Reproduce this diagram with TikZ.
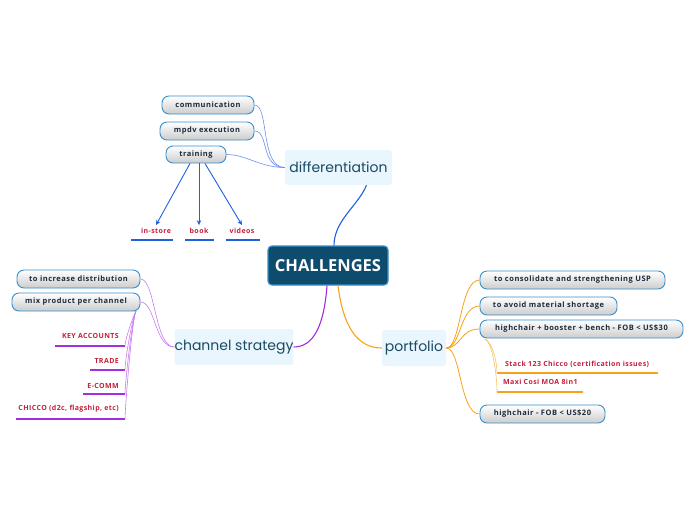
\documentclass[tikz,border=0pt]{standalone}
\usepackage{fontspec}
\setmainfont{Open Sans}
\newfontfamily\hand{Poppins}
\newfontfamily\boxfont[LetterSpace=7]{Open Sans}
\newfontfamily\leaffont[LetterSpace=6]{Open Sans}
\usetikzlibrary{arrows.meta}
\definecolor{navy}{HTML}{0E4C6E}
\definecolor{cborder}{HTML}{3A8FCB}
\definecolor{txt}{HTML}{1E2B3C}
\definecolor{crim}{HTML}{C41E3A}
\definecolor{mainblue}{HTML}{1F5FE0}
\definecolor{lightblue}{HTML}{6A8FF0}
\definecolor{purp}{HTML}{A52DE0}
\definecolor{lpurp}{HTML}{C77DF0}
\definecolor{orng}{HTML}{F7A21B}
\definecolor{lorng}{HTML}{F9C060}
\definecolor{topicfill}{HTML}{E9F6FD}
\definecolor{handtxt}{HTML}{1B4A63}
\tikzset{
  subbox/.style={draw=cborder, line width=0.9pt, rounded corners=7pt, top color=white, bottom color=black!20,
    font=\boxfont\fontsize{7.5}{8}\selectfont\bfseries, text=txt, minimum height=18pt, inner sep=0pt},
  mainbox/.style={fill=topicfill, rounded corners=3pt, font=\hand\fontsize{14}{16}\selectfont, text=handtxt, inner sep=0pt},
  leaf/.style={font=\leaffont\fontsize{7}{8}\selectfont\bfseries, text=crim, inner sep=0pt},
  centerbox/.style={fill=navy, draw=cborder, line width=1.2pt, rounded corners=4pt, text=white,
    font=\fontsize{16.5}{18}\selectfont\bfseries, inner sep=0pt},
  bline/.style={mainblue, line width=1.1pt},
  lbline/.style={lightblue, line width=0.6pt},
  pline/.style={purp, line width=1.1pt},
  lpline/.style={lpurp, line width=0.6pt},
  oline/.style={orng, line width=1.1pt},
  loline/.style={lorng, line width=0.6pt},
  tip/.style={-{Stealth[length=5pt,width=4.5pt]}},
}
\begin{document}
\begin{tikzpicture}[x=1pt,y=-1pt]
\useasboundingbox (0,0) rectangle (696,520);
% central
\node[centerbox, minimum width=120pt, minimum height=39pt] (ch) at (328,265.5) {CHALLENGES};
% main topics
\node[mainbox, minimum width=107pt, minimum height=35pt] (diff) at (338.5,167.5) {differentiation};
\node[mainbox, minimum width=118pt, minimum height=36pt] (chan) at (234,347) {channel strategy};
\node[mainbox, minimum width=64pt, minimum height=36pt] (port) at (414,348) {portfolio};
\draw[bline] ([xshift=6pt]ch.north) .. controls +(0,-25) and +(-8,20) .. ([xshift=28pt]diff.south);
\draw[pline] ([xshift=-1pt]ch.south) .. controls +(-3,40) and +(20,0) .. (chan.east);
\draw[oline] ([xshift=10pt]ch.south) .. controls +(5,40) and +(-25,0) .. (port.west);
% differentiation subs
\node[subbox, minimum width=92pt] (comm) at (208,105) {communication};
\node[subbox, minimum width=94pt] (mpdv) at (207,131) {mpdv execution};
\node[subbox, minimum width=60pt, minimum height=17pt] (train) at (196,154.5) {training};
\draw[lbline] (diff.west) .. controls +(-25,0) and +(15,0) .. (comm.east);
\draw[lbline] (diff.west) .. controls +(-25,0) and +(15,0) .. (mpdv.east);
\draw[lbline] (diff.west) .. controls +(-25,0) and +(20,0) .. (train.east);
\node[leaf] (instore) at (156,231) {in-store};
\node[leaf] (book) at (199,231) {book};
\node[leaf] (videos) at (242,231) {videos};
\draw[bline, line width=0.9pt, tip] ([xshift=-6pt]train.south) -- ([yshift=3pt]instore.north);
\draw[bline, line width=0.9pt, tip] ([xshift=3pt]train.south) -- ([yshift=3pt]book.north);
\draw[bline, line width=0.9pt, tip] ([xshift=9pt]train.south) -- ([yshift=3pt]videos.north);
\coordinate (u1a) at (131,240); \coordinate (u1b) at (173,240);
\coordinate (u2a) at (185,240); \coordinate (u2b) at (214,240);
\coordinate (u3a) at (226,240); \coordinate (u3b) at (260,240);
\draw[bline] (u1a) -- (u1b);
\draw[bline] (u2a) -- (u2b);
\draw[bline] (u3a) -- (u3b);
% channel strategy subs
\node[subbox, minimum width=123pt] (incr) at (78.5,279) {to increase distribution};
\node[subbox, minimum width=128pt] (mix) at (76,302) {mix product per channel};
\draw[lpline] (chan.west) .. controls +(-20,0) and +(15,0) .. (incr.east);
\draw[lpline] (chan.west) .. controls +(-20,0) and +(15,0) .. (mix.east);
\node[leaf, anchor=east] (key) at (119,336) {KEY ACCOUNTS};
\node[leaf, anchor=east] (trade) at (119,361) {TRADE};
\node[leaf, anchor=east] (ecomm) at (119,386) {E-COMM};
\node[leaf, anchor=east] (chicco) at (119,409) {CHICCO (d2c, flagship, etc)};
\coordinate (mixb) at (136,311);
\coordinate (k1) at (55,346); \coordinate (k2) at (125,346);
\coordinate (t1) at (90,370); \coordinate (t2) at (125,370);
\coordinate (e1) at (83,394); \coordinate (e2) at (125,394);
\coordinate (c1) at (16,419); \coordinate (c2) at (125,419);
\draw[pline] (k1) -- (k2); \draw[pline] (t1) -- (t2); \draw[pline] (e1) -- (e2); \draw[pline] (c1) -- (c2);
\draw[lpline] (mixb) .. controls +(-4,8) and +(0,-6) .. (k2);
\draw[lpline] (mixb) .. controls +(-4,8) and +(0,-10) .. (t2);
\draw[lpline] (mixb) .. controls +(-4,8) and +(0,-10) .. (e2);
\draw[lpline] (mixb) .. controls +(-4,8) and +(0,-10) .. (c2);
% portfolio subs
\node[subbox, minimum width=185pt] (usp) at (572.5,280) {to consolidate and strengthening USP};
\node[subbox, minimum width=137pt] (avoid) at (548.5,306) {to avoid material shortage};
\node[subbox, minimum width=203pt] (hc30) at (581.5,329) {highchair + booster + bench - FOB < US\$30};
\node[subbox, minimum width=125pt] (hc20) at (542.5,414) {highchair - FOB < US\$20};
\draw[oline, line width=0.8pt] (port.east) .. controls +(15,0) and +(-20,0) .. (usp.west);
\draw[oline, line width=0.8pt] (port.east) .. controls +(15,0) and +(-20,0) .. (avoid.west);
\draw[oline, line width=0.8pt] (port.east) .. controls +(15,0) and +(-20,0) .. (hc30.west);
\draw[oline, line width=0.8pt] (port.east) .. controls +(15,0) and +(-20,0) .. (hc20.west);
\node[leaf, anchor=west] (stack) at (505,364) {Stack 123 Chicco (certification issues)};
\node[leaf, anchor=west] (maxi) at (503,382) {Maxi Cosi MOA 8in1};
\coordinate (hcb) at (485,339);
\coordinate (s1) at (497,373); \coordinate (s2) at (658,373);
\coordinate (m1) at (497,392); \coordinate (m2) at (583,392);
\draw[oline] (s1) -- (s2); \draw[oline] (m1) -- (m2);
\draw[loline] (hcb) .. controls +(8,4) and +(0,-10) .. (s1);
\draw[loline] (hcb) .. controls +(8,4) and +(0,-15) .. (m1);
\end{tikzpicture}
\end{document}
